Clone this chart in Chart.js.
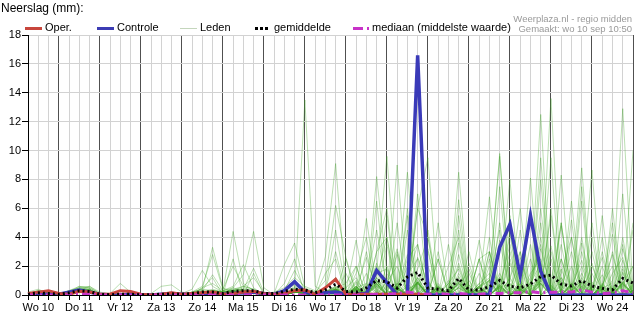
<!DOCTYPE html>
<html>
<head>
<meta charset="utf-8">
<script src="https://cdn.jsdelivr.net/npm/chart.js@4/dist/chart.umd.min.js"></script>
<style>
  body { margin: 0; background: #fff; }
  #wrap { position: relative; width: 637px; height: 326px; font-family: Arial, "Liberation Sans", sans-serif; }
  #grafiek { position: absolute; left: 0; top: 0; }
  .txt { position: absolute; white-space: nowrap; color: #000; }
  .titel { left: 1px; top: 1px; font-size: 12px; }
  .leg { top: 21px; font-size: 11px; }
  .bron { right: 5px; font-size: 9.5px; color: #9a9a9a; text-align: right; }
  .sym { position: absolute; }
</style>
</head>
<body>
<div id="wrap">
  <canvas id="grafiek" width="637" height="326"></canvas>
  <div class="txt titel">Neerslag (mm):</div>

  <div class="sym" style="left:25px;top:27px;width:17px;height:3px;background:#c8463c"></div>
  <div class="txt leg" style="left:45px">Oper.</div>
  <div class="sym" style="left:97px;top:27px;width:17px;height:3px;background:#3c3cb4"></div>
  <div class="txt leg" style="left:117px">Controle</div>
  <div class="sym" style="left:180px;top:28px;width:17px;height:1px;background:#c4d6bc"></div>
  <div class="txt leg" style="left:200px">Leden</div>
  <div class="sym" style="left:255px;top:27px;width:13px;height:0;border-top:3px dotted #000"></div>
  <div class="txt leg" style="left:274px">gemiddelde</div>
  <div class="sym" style="left:353px;top:27px;width:10px;height:3px;background:#c832c8"></div>
  <div class="sym" style="left:367px;top:27px;width:2px;height:3px;background:#c832c8"></div>
  <div class="txt leg" style="left:372px">mediaan (middelste waarde)</div>

  <div class="txt bron" style="top:13px">Weerplaza.nl - regio midden</div>
  <div class="txt bron" style="top:23px">Gemaakt: wo 10 sep 10:50</div>
</div>

<script>
// dagen op de x-as, elke dag 4 stappen van 6 uur (start wo 10 06:00)
const dagen = ['Wo 10','Do 11','Vr 12','Za 13','Zo 14','Ma 15','Di 16','Wo 17','Do 18','Vr 19','Za 20','Zo 21','Ma 22','Di 23','Wo 24'];
const yTicks = [0, 2, 4, 6, 8, 10, 12, 14, 16, 18];

// operationele run (stopt na vr 19)
const oper = [0.1,0.2,0.3,0.1,0.05,0.25,0.2,0.05,0.05,0.3,0.25,0.05,0,0.05,0.15,
  0.05,0.1,0.15,0.2,0.05,0.1,0.2,0.25,0.1,0.05,0.1,0.3,0.35,0.05,0.5,
  1.1,0.05,0.05,0.05,0.05,0.05,0.05,0.05,0.05,0.0,null,null,null,null,null,
  null,null,null,null,null,null,null,null,null,null,null,null,null,null,null];

const controle = [0.05,0.1,0.05,0.05,0.2,0.35,0.2,0.05,0,0,0.05,0,0,0.05,0.1,
  0.05,0.05,0.1,0.1,0.05,0.1,0.15,0.2,0.1,0.05,0.3,0.92,0.2,0.05,0.15,
  0.2,0.05,0.05,0.1,1.7,0.85,0,0.05,16.6,0,0,0,0,0,0,
  0.05,3.3,4.9,1.35,5.5,1.65,0,0,0,0,0,0,0,0,0];

const gemiddelde = [0.05,0.15,0.1,0.05,0.15,0.3,0.25,0.05,0.02,0.05,0.05,0.02,0.02,0.05,0.08,
  0.05,0.1,0.2,0.2,0.1,0.25,0.3,0.3,0.1,0.1,0.25,0.4,0.35,0.15,0.35,
  0.75,0.25,0.2,0.5,1.0,0.92,0.48,1.25,1.57,0.48,0.4,0.3,1.15,0.35,0.35,
  0.57,1.0,0.6,0.5,0.76,1.27,1.38,0.76,0.62,0.99,0.62,0.46,0.35,1.15,0.83];

const mediaan = [0,0,0,0,0,0.05,0.05,0,0,0,0,0,0,0,0,
  0,0,0,0,0,0,0,0,0,0,0,0,0,0,0,
  0,0,0,0,0.05,0.05,0.1,0.2,0.1,0.05,0.1,0.05,0.1,0.05,0.05,
  0.1,0.1,0.15,0.15,0.23,0.15,0.19,0.2,0.2,0.35,0.2,0.1,0.15,0.3,0.15];

// ensemble-leden
const leden = [
  [0.1,0.3,0.2,0.1,0.3,0.5,0.4,0,0,0,0.1,0,0,0,0.1, 0,0.2,0.4,3.3,0.5,0.2,0.4,0.3,0,0,0.2,0.8,0.3,0,0.5, 1.2,0.1,0.6,0,2.2,0.3,0,1.1,3.5,0.2,0,0,1.3,0,0.2, 0,1.5,0.1,0,0.9,3.2,0.4,0,0.6,2.4,0.1,0,0,1.8,0],
  [0.2,0.4,0.1,0,0.2,0.6,0.5,0.1,0,0,0,0,0,0.1,0.2, 0.1,0.4,1.7,0.6,0.2,4.4,0.8,0.3,0.1,0,0.1,0.5,0.2,0,0.3, 3.0,0.2,0,0.8,4.5,0.6,0,0.3,0.9,0,2.5,0.1,0,0.2,0, 1.1,0,2.2,0,0.3,4.0,0,1.8,0,0.4,3.0,0,0.2,0,0.3],
  [0,0.2,0.3,0.1,0.1,0.4,0.6,0.2,0.1,0.8,0.2,0,0,0,0, 0,0,0.3,1.4,0.3,0.6,2.1,0.5,0,0,0.3,1.7,0.4,0.1,0, 0.4,0,1.0,0.2,1.6,9.6,0.4,0,0.8,0.1,0,0,2.8,0,0.3, 0.2,0,4.2,0,0.4,0.8,0,2.5,0.3,0,0.2,1.4,0,0.8,0],
  [0.1,0.2,0.1,0,0.3,0.4,0.3,0,0,0,0,0,0,0,0, 0,0.2,0.3,0.2,0.1,0.5,1.4,4.4,0.5,0,0,0.4,13.5,0.6,0.2, 0.3,0.1,0,0.3,0,1.0,3.2,0,0.6,0,0.3,0,1.5,0.2,0, 0.9,0,0.3,2.6,0,0.8,0,0.3,0,3.6,0,0.4,0,0.7,0.2],
  [0.1,0.3,0.2,0.1,0.2,0.5,0.6,0.1,0,0.1,0,0,0.1,0.6,0.7, 0.2,0.1,0.5,0.8,0.3,0.4,0.6,1.2,0.2,0.1,2.1,3.6,0.5,0.2,2.65, 9.1,0.3,0,0.7,0.2,0,0.8,0,2.6,0.9,0,0.1,0.8,0,0.3, 0,3.8,0,0.3,0,0.7,5.5,0,0.3,0.8,0,0.3,4.2,0,0.3],
  [0,0.1,0.2,0,0.1,0.3,0.4,0,0,0,0.2,0.1,0,0,0, 0,0,0,0.3,0.2,0.3,0.4,0.2,0,0,0.1,0.6,0.4,0.2,1.0, 6.2,2.6,0.2,5.3,0.4,0,0.6,1.4,2.5,0,0.3,0,0.5,1.8,0, 3.0,0.4,0,0.4,0,1.2,0,0.3,3.0,0,0.8,0,0.2,2.4,0],
  [0.1,0.2,0.1,0,0.2,0.4,0.3,0.1,0,0,0,0,0,0,0.1, 0,0.2,0.6,2.8,0.4,2.0,0.6,0.4,0.1,0.2,0.5,1.2,0.6,0.3,0.4, 4.5,0.3,3.8,0.2,8.2,1.5,0,0.8,0,0.5,0,0.2,3.6,0,0.5, 0,0.6,0,4.5,0,1.4,0.3,0,0.3,1.0,0,0.4,0,3.2,0.5],
  [0,0.1,0.1,0,0.1,0.3,0.2,0,0,0,0,0,0,0,0, 0,0.1,0.3,0.2,0.1,0.3,0.5,0.3,0,0,0.1,0.4,0.2,0.1,0.3, 0.5,0,0.4,2.6,0.3,0,9.0,0.4,0.8,0,5.0,0.3,0,0.3,3.8, 0,0.5,0.8,0,5.5,0,0.3,0,0.8,0,2.0,0.3,0,0.8,0],
  [0.1,0.2,0.2,0.1,0.2,0.5,0.4,0,0,0,0.1,0,0,0,0, 0,0,0.2,0.4,0.2,0.3,0.4,1.85,0.2,0,0,0.5,0.3,0,0.2, 0.6,0.2,0,0.6,1.0,0,0.7,8.5,0.3,0,0.4,0,0.5,0,0.6, 6.8,0,0.5,0,0.8,2.2,0,0.4,0,0.5,0,0.6,2.8,0,0.3],
  [0,0.1,0.1,0,0.2,0.3,0.3,0,0,0,0,0,0,0,0.1, 0,0.1,0.1,0.2,0.3,0.5,0.3,0.2,0.1,0,0.2,0.3,0.2,0.1,0.2, 0.4,0,0.6,0,1.2,0.3,0,0.6,6.0,9.5,0.2,0,0.8,0,0.6, 0,0.6,3.5,0,0.6,0.8,0,4.8,0,0.6,0,0.4,0,0.6,0],
  [0.1,0.3,0.2,0,0.3,0.6,0.5,0.1,0,0,0,0,0,0,0, 0,0.2,0.4,0.3,0.2,0.3,0.6,0.4,0.1,0,0.3,0.7,0.3,0.1,0.2, 0.5,0.8,2.0,0,3.0,6.0,0.2,0,0.9,0,0.5,0,6.6,0.3,0, 0.6,1.2,0,0.6,0,1.1,3.4,0,0.8,0,0.4,0,0.3,0.8,2.0],
  [0,0.2,0.1,0,0.1,0.3,0.4,0,0,0,0,0,0,0,0, 0,0,0.2,0.2,0.1,0.2,0.3,0.1,0,0,0,0.2,0.2,0,0.1, 0.3,0,0.4,0.2,0.8,0,0.5,0,0.9,0,0.6,0,8.5,0.3,0, 0.8,9.8,0.3,0,0.8,0,0.6,0,0.7,0,0.5,2.6,0,0.7,0],
  [0.1,0.2,0.1,0,0.2,0.4,0.3,0,0,0,0,0,0,0,0, 0,0,0.1,0.3,0.2,0.1,0.2,0.3,0,0,0,0.3,0.2,0,0.1, 0.4,0,0.5,0,0.9,0.3,5.0,0,0.9,0,0.5,0,0.9,0,0.8, 0,0.7,8.0,0,0.6,12.5,0.3,0,0.6,0,0.9,0,0.4,0,0.5],
  [0,0.1,0.2,0.1,0.1,0.3,0.3,0,0,0,0,0,0,0,0, 0,0,0.1,0.1,0.2,0.3,0.2,0.2,0,0,0,0.2,0.1,0,0.1, 0.3,0,0.3,0,0.7,0,0.4,2.8,0,0.5,0,0.3,0,1.5,0, 0.7,0,0.8,0,0.8,0.9,13.6,0.4,0,0.6,0,0.7,0,0.9,0],
  [0.1,0.2,0.1,0,0.2,0.4,0.4,0,0,0,0,0,0,0,0, 0,0.1,0.2,0.3,0.2,0.3,0.2,0.3,0,0,0.1,0.4,0.3,0.1,0.2, 0.4,0,0.5,0,0.8,0,0.5,0,0.7,3.2,0,0.3,0.7,0,0.6, 0,0.6,0,0.5,8.1,0,0.7,0,0.8,8.8,0,0.5,0,0.8,0],
  [0,0.1,0.1,0,0.1,0.2,0.3,0,0,0,0,0,0,0,0, 0,0,0.1,0.2,0.1,0.2,0.3,0.2,0,0,0,0.2,0.1,0,0.1, 0.3,0,0.4,0,0.6,0,0.4,0,0.8,0,0.5,0,2.2,0,0.5, 0,0.7,0,0.5,0,0.8,0.3,8.3,0,0.8,8.65,0,0.5,0,0.7],
  [0,0.1,0.1,0,0.2,0.3,0.2,0,0,0,0,0,0,0,0, 0,0,0.1,0.2,0.1,0.2,0.3,0.2,0,0,0,0.2,0.2,0,0.1, 0.2,0,0.3,0,0.6,0,0.4,0,0.5,0,0.3,0,0.5,0,0.3, 0,0.6,0,0.4,0,0.7,0,0.6,0,0.7,0,0.5,0.8,12.9,0.3],
  [0.1,0.2,0.1,0,0.2,0.3,0.3,0,0,0,0,0,0,0,0, 0,0,0.1,0.2,0.1,0.2,0.2,0.2,0,0,0,0.2,0.1,0,0.1, 0.3,0,0.3,0,0.7,0,0.4,0,0.7,0,0.4,0,0.6,0,0.5, 0,0.5,0,0.4,0,9.5,0.3,0,5.2,0,0.5,0,0.6,0,10.0],
  [0,0.1,0.1,0,0.1,0.3,0.2,0,0,0,0,0,0,0,0, 0,0,0.2,0.3,0.1,0.3,0.2,0.2,0,0,0,0.3,0.2,0,0.2, 0.5,0,0.6,0,1.5,1.8,0,2.5,3.5,0,0.8,0,2.0,0,0.8, 1.5,0,1.2,0,1.5,2.5,0,1.2,0,2.0,0,0.8,0,1.6,0],
  [0.1,0.2,0.1,0,0.2,0.3,0.3,0,0,0,0,0,0,0,0, 0,0.1,0.2,0.3,0.2,0.4,0.3,0.2,0,0,0,0.3,0.2,0,0.2, 0.6,0,0.8,0,2.0,0,2.8,0,1.8,4.0,0,0.8,0,3.0,0, 2.5,0,3.0,0,1.2,3.5,0,1.5,4.0,0,2.2,0,1.5,2.6,0],
  [0,0.1,0.1,0,0.2,0.3,0.2,0,0,0,0,0,0,0,0, 0,0,0.1,0.2,0.1,0.2,0.2,0.2,0,0,0,0.2,0.1,0,0.1, 0.3,0.5,1.2,0,3.0,4.0,0,5.5,0,1.0,0,2.0,4.0,0,2.5, 0,5.0,0,3.0,0,2.0,0,5.0,0,6.5,0,3.0,0,2.0,0],
  [0.1,0.2,0.1,0,0.1,0.3,0.3,0,0,0,0,0,0,0,0, 0,0,0.1,0.2,0.1,0.2,0.3,0.2,0,0,0,0.2,0.2,0,0.1, 0.4,0,0.5,0.8,0,0.9,2.0,0,6.0,4.0,0,0.8,1.8,0,2.5, 3.0,0,5.5,0,6.0,0,2.5,0,4.0,0,4.0,0,1.0,3.5,0],
  [0,0.1,0.1,0,0.1,0.2,0.2,0,0,0,0,0,0,0,0, 0,0,0.1,0.1,0.1,0.2,0.2,0.1,0,0,0,0.2,0.1,0,0.1, 0.3,0,0.4,0,0.8,0,0.5,0,1.0,0,0.6,0,1.0,0,0.6, 1.0,0,1.2,3.0,0,1.5,0,1.2,0,1.5,0,0.6,5.0,0,5.0],
  [0.1,0.2,0.1,0,0.1,0.3,0.3,0,0,0,0,0,0,0,0, 0,0.1,0.2,0.2,0.1,0.3,0.2,0.2,0,0,0,0.2,0.1,0,0.2, 0.4,0,0.5,0,1.0,0,0.6,0,1.2,0,0.7,0,1.2,0,0.6, 1.2,9.6,0,0.8,0,1.4,0,0.8,0,1.2,0,0.6,0,1.0,0],
  [0,0.1,0.1,0,0.1,0.2,0.2,0,0,0,0,0,0,0,0, 0,0,0.1,0.2,0.1,0.2,0.2,0.1,0,0,0,0.2,0.1,0,0.1, 0.3,0,0.4,0,0.8,0,0.5,0,0.8,0,0.5,0,0.8,0,0.5, 0,0.7,0,0.6,0,1.0,9.5,0,0.7,0,0.6,0,0.7,0,0.6],
  [0.1,0.2,0.1,0,0.1,0.3,0.2,0,0,0,0,0,0,0,0, 0,0,0.1,0.2,0.1,0.2,0.2,0.2,0,0,0,0.2,0.1,0,0.1, 0.3,0,0.5,0,1.0,0,0.6,0,0.9,0,0.6,0,0.9,0,0.5, 1.0,0,0.9,6.0,0,1.0,0,0.7,0,0.9,0,0.6,0,7.0,0],
  [0,0.1,0.1,0,0.1,0.2,0.2,0,0,0,0,0,0,0,0, 0,0,0.1,0.2,0.1,0.2,0.2,0.2,0,0,0,0.2,0.1,0,0.1, 0.4,0,0.9,0,1.2,4.0,0,0.6,0,0.8,0,0.4,0,0.7,0, 3.0,0,0.7,0,6.0,0,0.8,5.0,0,0.9,0,4.0,0,0.9,0],
  [0.1,0.2,0.1,0,0.1,0.3,0.3,0,0,0,0,0,0,0,0, 0,0.1,0.2,0.2,0.1,0.2,0.3,0.2,0,0,0,0.3,0.2,0,0.2, 0.4,0,0.6,0,1.2,0,0.8,0,1.2,0,3.0,0,1.0,0,2.5, 0,1.2,0,0.8,0,6.0,0,1.0,0,4.0,0,0.7,2.0,0,0.8],
  [0,0.1,0.1,0,0.1,0.3,0.2,0,0,0,0,0,0,0,0, 0,0,0.1,0.2,0.1,0.2,0.2,0.2,0,0,0,0.2,0.1,0,0.1, 0,1.5,0,3.0,0,5.5,0,2.0,0,4.5,0,1.0,0,2.2,0, 4.0,0,2.5,0,3.5,0,6.0,0,2.0,0,5.0,0,3.0,0,4.5],
  [0,0.1,0.1,0,0.1,0.3,0.2,0,0,0,0,0,0,0,0, 0,0,0.1,0.2,0.1,0.2,0.2,0.2,0,0,0,0.2,0.1,0,0.1, 0.2,0,2.0,0,6.5,0,3.0,0,7.0,0,2.5,0,5.5,0,1.5, 0,7.5,0,2.0,0,5.0,0,3.5,0,7.5,0,2.0,0,4.0,0],
  [0,0.1,0.1,0,0.1,0.3,0.2,0,0,0,0,0,0,0,0, 0,0,0.1,0.2,0.1,0.2,0.2,0.2,0,0,0,0.2,0.1,0,0.1, 0,2.5,0,1.5,0,3.5,0,4.5,0,2.0,0,3.5,0,1.0,0, 2.0,0,4.5,0,2.5,0,3.0,0,6.5,0,1.5,0,6.0,0,2.0],
  [0,0.1,0.1,0,0.1,0.3,0.2,0,0,0,0,0,0,0,0, 0,0,0.5,1.2,0,2.5,0,1.5,0,0,0.8,2.5,0,0,1.5, 2.5,0,1.5,4.0,0,2.0,0,6.0,0,3.0,0,0.5,4.5,0,0, 1.0,4.5,0,1.0,0,8.0,0,2.5,0,3.0,0,5.5,0,1.5,0]
];

// labels: daglabel op 12:00, verder leeg
const xLabels = [];
for (let i = 0; i < 60; i++) {
  xLabels.push(i % 4 === 1 ? dagen[(i - 1) / 4] : '');
}

const sets = [
  { label: 'gemiddelde', data: gemiddelde, borderColor: '#000', borderWidth: 3, borderDash: [2, 3], order: 0 },
  { label: 'mediaan', data: mediaan, borderColor: '#c832c8', borderWidth: 3, borderDash: [8, 4, 2, 4], order: 1 },
  { label: 'Oper.', data: oper, borderColor: '#c8463c', borderWidth: 3, order: 2 },
  { label: 'Controle', data: controle, borderColor: '#3a3ab8', borderWidth: 3.5, order: 3 }
];
leden.forEach((rij, n) => {
  sets.push({ label: 'lid ' + (n + 1), data: rij, borderColor: 'rgba(55,160,30,0.34)', borderWidth: 1, order: 10 });
});

const ctx = document.getElementById('grafiek').getContext('2d');
new Chart(ctx, {
  type: 'line',
  data: { labels: xLabels, datasets: sets },
  options: {
    responsive: false,
    animation: false,
    devicePixelRatio: 1,
    layout: { padding: { top: 35, right: 4, left: 0, bottom: 0 } },
    elements: { point: { radius: 0 }, line: { tension: 0 } },
    plugins: { legend: { display: false }, tooltip: { enabled: false } },
    scales: {
      x: {
        offset: false,
        afterFit: (s) => { s.height = 31; },
        border: { color: '#000' },
        grid: {
          color: (c) => (c.index % 4 === 3 ? '#505050' : '#d2d2d2'),
          tickColor: '#000',
          tickLength: 5
        },
        ticks: {
          autoSkip: false, maxRotation: 0, padding: 1,
          color: '#000', font: { family: 'Arial, "Liberation Sans"', size: 11 }
        }
      },
      y: {
        min: 0, max: 18,
        afterFit: (s) => { s.width = 28; },
        afterBuildTicks: (s) => { s.ticks = yTicks.map(v => ({ value: v })); },
        border: { color: '#000' },
        grid: { color: '#d2d2d2', tickColor: '#000', tickLength: 6 },
        ticks: {
          padding: 1, color: '#000',
          font: { family: 'Arial, "Liberation Sans"', size: 11 }
        }
      }
    }
  }
});
</script>
</body>
</html>
